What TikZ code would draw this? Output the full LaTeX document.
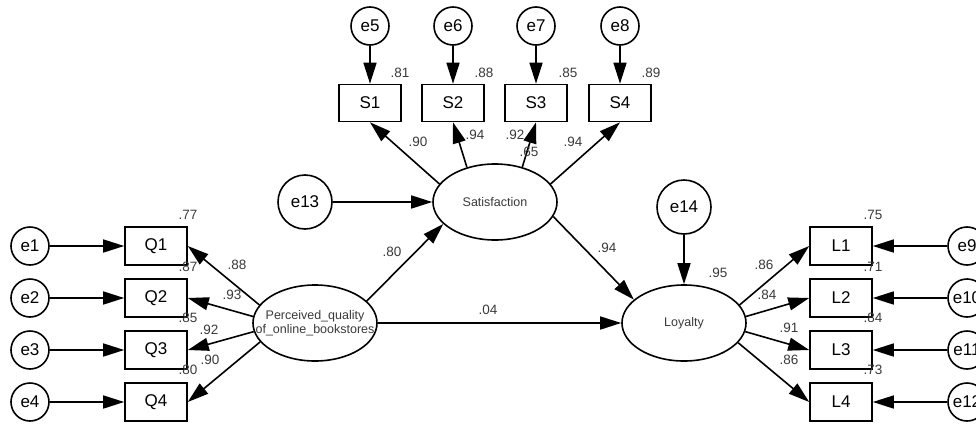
\documentclass[tikz,border=0pt]{standalone}
\usepackage{fontspec}
\setmainfont{Liberation Sans}
\usepackage{xcolor}
\usepackage{tikz}
\usetikzlibrary{arrows.meta,shapes.geometric}

\newcommand{\varfont}{\fontsize{17}{20}\selectfont}
\newcommand{\latfont}{\fontsize{12.5}{13.5}\selectfont}
\newcommand{\coeffont}{\fontsize{13.5}{15}\selectfont}
\definecolor{coefgray}{HTML}{3A3A3A}

\begin{document}
\begin{tikzpicture}[>={Triangle[length=21pt,width=13pt]},x=1pt,y=-1pt,line width=1.6pt,
  err/.style={circle,draw,minimum size=38pt,inner sep=0pt,font=\varfont},
  bigerr/.style={err,minimum size=54pt},
  obs/.style={rectangle,draw,minimum width=62pt,minimum height=38pt,inner sep=0pt,font=\varfont},
  latent/.style={ellipse,draw,minimum width=124pt,minimum height=76pt,inner sep=0pt,font=\latfont,text=coefgray,align=center},
  coef/.style={font=\coeffont,text=coefgray,inner sep=0pt}]
\useasboundingbox (0,0) rectangle (976,423);
% latent variables
\node[latent,inner xsep=-16pt] (pq) at (315,323) {Perceived\_quality\\of\_online\_bookstores};
\node[latent] (sat) at (495,202) {Satisfaction};
\node[latent] (loy) at (684,323) {Loyalty};
\node[bigerr] (e13) at (305,202) {e13};
\node[bigerr] (e14) at (684,207) {e14};
% quality indicators
\node[obs] (q1) at (156,246) {Q1};
\node[obs] (q2) at (156,298) {Q2};
\node[obs] (q3) at (156,350) {Q3};
\node[obs] (q4) at (156,402) {Q4};
\node[err] (e1) at (30,246) {e1};
\node[err] (e2) at (30,298) {e2};
\node[err] (e3) at (30,350) {e3};
\node[err] (e4) at (30,402) {e4};
% satisfaction indicators
\node[obs,minimum height=37pt] (s1) at (370,103) {S1};
\node[obs,minimum height=37pt] (s2) at (453,103) {S2};
\node[obs,minimum height=37pt] (s3) at (536,103) {S3};
\node[obs,minimum height=37pt] (s4) at (620,103) {S4};
\node[err] (e5) at (370,26) {e5};
\node[err] (e6) at (453,26) {e6};
\node[err] (e7) at (536,26) {e7};
\node[err] (e8) at (620,26) {e8};
% loyalty indicators
\node[obs] (l1) at (841,246) {L1};
\node[obs] (l2) at (841,298) {L2};
\node[obs] (l3) at (841,350) {L3};
\node[obs] (l4) at (841,402) {L4};
\node[err] (e9) at (967,246) {e9};
\node[err] (e10) at (967,298) {e10};
\node[err] (e11) at (967,350) {e11};
\node[err] (e12) at (967,402) {e12};
% error paths
\draw[->] (e1) -- (q1);
\draw[->] (e2) -- (q2);
\draw[->] (e3) -- (q3);
\draw[->] (e4) -- (q4);
\draw[->] (e5) -- (s1);
\draw[->] (e6) -- (s2);
\draw[->] (e7) -- (s3);
\draw[->] (e8) -- (s4);
\draw[->] (e9) -- (l1);
\draw[->] (e10) -- (l2);
\draw[->] (e11) -- (l3);
\draw[->] (e12) -- (l4);
\draw[->] (e13) -- (sat);
\draw[->] (e14) -- (loy);
% loadings
\draw[->] (pq.162) -- (q1.east);
\draw[->] (pq.174) -- (q2.east);
\draw[->] (pq.188) -- (q3.east);
\draw[->] (pq.199) -- (q4.east);
\draw[->] (sat.162) -- (s1.south);
\draw[->] (sat.129) -- (s2.south);
\draw[->] (sat.52) -- (s3.south);
\draw[->] (sat.18) -- (s4.south);
\draw[->] (loy.18) -- (l1.west);
\draw[->] (loy.6) -- (l2.west);
\draw[->] (loy.-8) -- (l3.west);
\draw[->] (loy.-20) -- (l4.west);
% structural paths
\draw[->] (pq.23) -- (sat.203);
\draw[->] (sat.-14) -- (loy.155);
\draw[->] (pq) -- (loy);
% coefficients
\node[coef] (rq1) at (188,215) {.77};
\node[coef] (rq2) at (188,267) {.87};
\node[coef] (rq3) at (188,318) {.85};
\node[coef] (rq4) at (188,370) {.80};
\node[coef] (wq1) at (237,265) {.88};
\node[coef] (wq2) at (232,295) {.93};
\node[coef] (wq3) at (209,330) {.92};
\node[coef] (wq4) at (210,360) {.90};
\node[coef] (rs1) at (400,73) {.81};
\node[coef] (rs2) at (484,73) {.88};
\node[coef] (rs3) at (568,73) {.85};
\node[coef] (rs4) at (651,73) {.89};
\node[coef] (ws1) at (418,142) {.90};
\node[coef] (ws2) at (475,135) {.94};
\node[coef] (ws3) at (515,135) {.92};
\node[coef] (rsat) at (529,152) {.65};
\node[coef] (ws4) at (573,142) {.94};
\node[coef] (bps) at (392,252) {.80};
\node[coef] (bsl) at (607,248) {.94};
\node[coef] (bpl) at (488,310) {.04};
\node[coef] (rloy) at (718,273) {.95};
\node[coef] (wl1) at (764,265) {.86};
\node[coef] (wl2) at (767,295) {.84};
\node[coef] (wl3) at (789,328) {.91};
\node[coef] (wl4) at (789,360) {.86};
\node[coef] (rl1) at (873,215) {.75};
\node[coef] (rl2) at (873,267) {.71};
\node[coef] (rl3) at (873,318) {.84};
\node[coef] (rl4) at (873,370) {.73};
\end{tikzpicture}
\end{document}
